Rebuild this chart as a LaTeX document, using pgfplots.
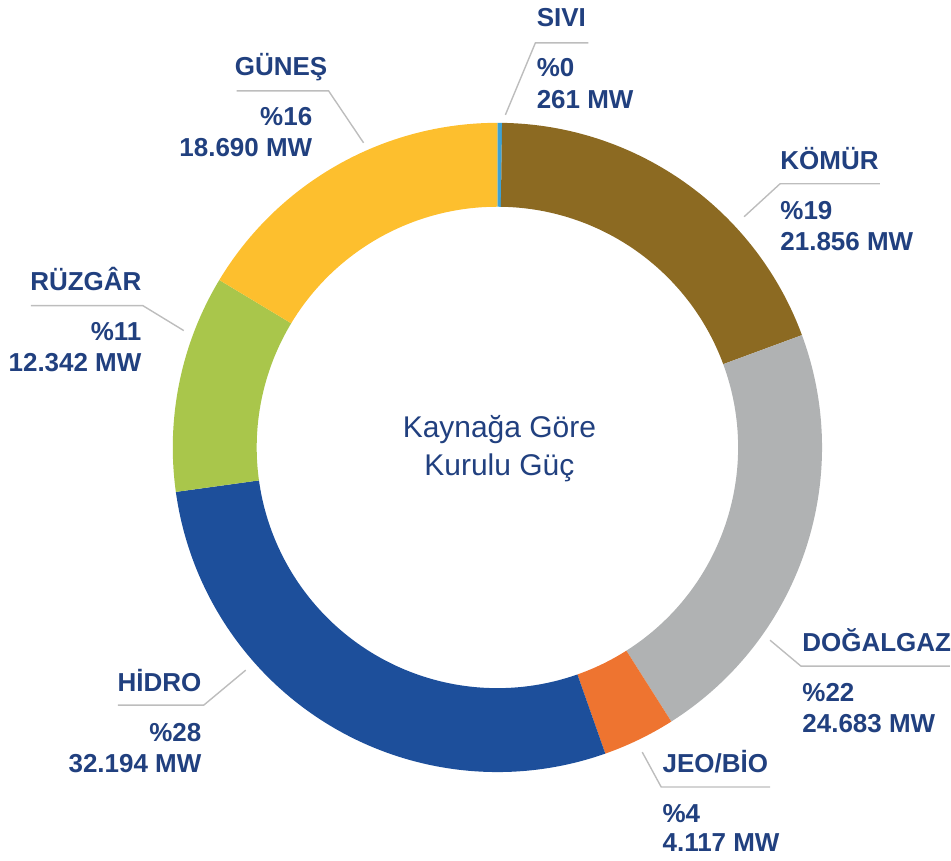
\documentclass[border=0pt]{standalone}
\usepackage{pgfplots}
\usepackage{pgfplotstable}
\pgfplotsset{compat=1.18}
\usepackage{fontspec}
\setmainfont{Liberation Sans}

\definecolor{cSivi}{HTML}{3EA2D5}
\definecolor{cKomur}{HTML}{8C6A22}
\definecolor{cDogal}{HTML}{B0B2B3}
\definecolor{cJeo}{HTML}{EE7430}
\definecolor{cHidro}{HTML}{1D4F9B}
\definecolor{cRuz}{HTML}{A9C64B}
\definecolor{cGunes}{HTML}{FDBF2E}
\definecolor{navy}{HTML}{21407F}
\definecolor{leader}{HTML}{BDBDBD}

\pgfplotstableread[col sep=comma]{
name,value,color
SIVI,261,cSivi
KOMUR,21856,cKomur
DOGALGAZ,24683,cDogal
JEOBIO,4117,cJeo
HIDRO,32194,cHidro
RUZGAR,12342,cRuz
GUNES,18690,cGunes
}\energy

\newcommand\lbl{\fontsize{13}{15}\selectfont\bfseries}
\newcommand\ctr{\fontsize{15}{18}\selectfont}

\begin{document}
\begin{tikzpicture}
\begin{axis}[
  x=0.5pt, y=0.5pt,
  xmin=0, xmax=951, ymin=0, ymax=862,
  scale only axis, hide axis, clip=false,
]
\path (axis cs:0,0) rectangle (axis cs:951,862);
% total
\def\total{0}
\pgfplotsforeachungrouped \i in {0,...,6}{%
  \pgfplotstablegetelem{\i}{value}\of\energy
  \edef\total{\fpeval{\total+\pgfplotsretval}}%
}
\def\cum{0}
\pgfplotsforeachungrouped \i in {0,...,6}{%
  \pgfplotstablegetelem{\i}{value}\of\energy \let\v\pgfplotsretval
  \pgfplotstablegetelem{\i}{color}\of\energy \let\c\pgfplotsretval
  \edef\a{\fpeval{round(90-\cum/\total*360,4)}}%
  \edef\cum{\fpeval{\cum+\v}}%
  \edef\b{\fpeval{round(90-\cum/\total*360,4)}}%
  \edef\xo{\fpeval{round(498+325*cosd(\a),3)}}%
  \edef\yo{\fpeval{round(414+325*sind(\a),3)}}%
  \edef\xi{\fpeval{round(498+241*cosd(\b),3)}}%
  \edef\yi{\fpeval{round(414+241*sind(\b),3)}}%
  \edef\temp{\noexpand\fill[\c] (axis cs:\xo,\yo) arc[start angle=\a, end angle=\b, radius=162.5pt] -- (axis cs:\xi,\yi) arc[start angle=\b, end angle=\a, radius=120.5pt] -- cycle;}%
  \temp
}

% leader lines
\draw[leader, line width=0.7pt] (axis cs:589,819) -- (axis cs:536,819) -- (axis cs:506,747);
\draw[leader, line width=0.7pt] (axis cs:881,678) -- (axis cs:781,678) -- (axis cs:745,645);
\draw[leader, line width=0.7pt] (axis cs:951,195) -- (axis cs:802,195) -- (axis cs:771,221);
\draw[leader, line width=0.7pt] (axis cs:771,74) -- (axis cs:662,74) -- (axis cs:643,109);
\draw[leader, line width=0.7pt] (axis cs:118,156) -- (axis cs:204,156) -- (axis cs:246,191);
\draw[leader, line width=0.7pt] (axis cs:31,556) -- (axis cs:143,556) -- (axis cs:184,531);
\draw[leader, line width=0.7pt] (axis cs:237,771) -- (axis cs:329,771) -- (axis cs:364,719);

% labels
\begin{scope}[every node/.style={inner sep=0pt, text=navy, font=\lbl}]
\node[anchor=base west] at (axis cs:537,835) {SIVI};
\node[anchor=base west] at (axis cs:537,785) {\%0};
\node[anchor=base west] at (axis cs:537,753) {261 MW};

\node[anchor=base west] at (axis cs:781,692) {KÖMÜR};
\node[anchor=base west] at (axis cs:781,642) {\%19};
\node[anchor=base west] at (axis cs:781,611) {21.856 MW};

\node[anchor=base west] at (axis cs:803,210) {DOĞALGAZ};
\node[anchor=base west] at (axis cs:803,160) {\%22};
\node[anchor=base west] at (axis cs:803,129) {24.683 MW};

\node[anchor=base west] at (axis cs:663,89) {JEO/BİO};
\node[anchor=base west] at (axis cs:663,39) {\%4};
\node[anchor=base west] at (axis cs:663,9) {4.117 MW};

\node[anchor=base east] at (axis cs:202,170) {HİDRO};
\node[anchor=base east] at (axis cs:202,120) {\%28};
\node[anchor=base east] at (axis cs:202,89) {32.194 MW};

\node[anchor=base east] at (axis cs:142,571) {RÜZGÂR};
\node[anchor=base east] at (axis cs:142,521) {\%11};
\node[anchor=base east] at (axis cs:142,490) {12.342 MW};

\node[anchor=base east] at (axis cs:328,786) {GÜNEŞ};
\node[anchor=base east] at (axis cs:313,736) {\%16};
\node[anchor=base east] at (axis cs:313,705) {18.690 MW};

\node[anchor=base, font=\ctr] at (axis cs:500,424) {Kaynağa Göre};
\node[anchor=base, font=\ctr] at (axis cs:500,386) {Kurulu Güç};
\end{scope}
\end{axis}
\end{tikzpicture}
\end{document}
